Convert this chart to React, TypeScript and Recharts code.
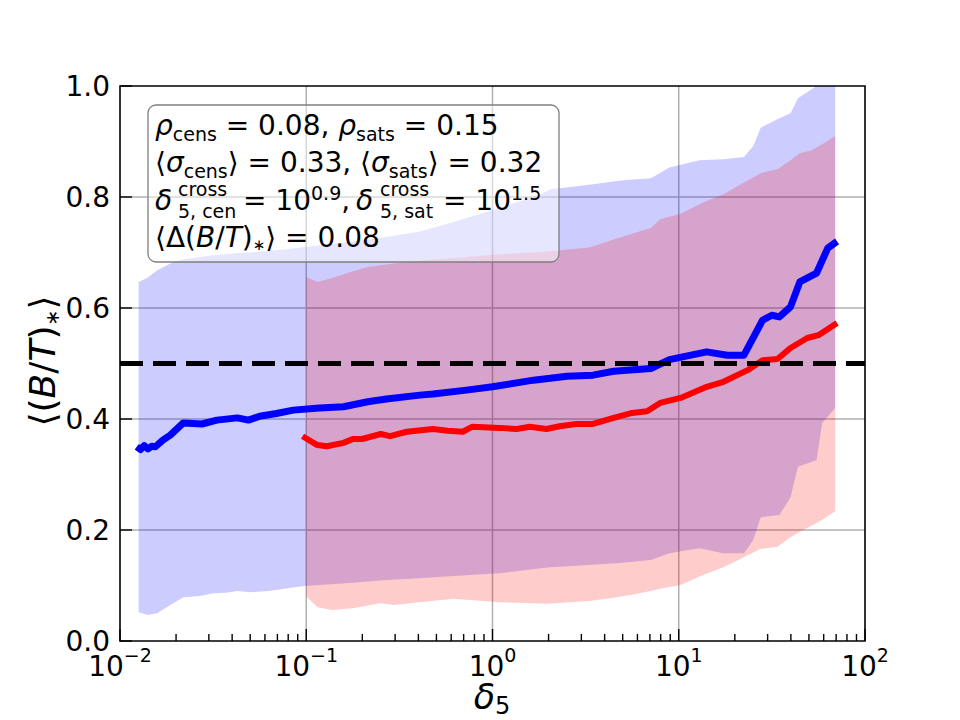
import React from 'react';
import {
  ComposedChart,
  Line,
  Area,
  XAxis,
  YAxis,
  CartesianGrid,
  ReferenceLine,
  ReferenceArea,
} from 'recharts';

// x is log10(delta_5)
const censLogDelta = [
  -1.91, -1.89, -1.87, -1.85, -1.83, -1.81, -1.77, -1.73, -1.66, -1.56, -1.48, -1.37, -1.31, -1.25,
  -1.16, -1.07, -0.93, -0.8, -0.67, -0.57, -0.39, -0.32, -0.14, 0.0, 0.22, 0.4, 0.54, 0.65, 0.85,
  0.95, 1.15, 1.26, 1.35, 1.45, 1.5, 1.54, 1.6, 1.65, 1.74, 1.8, 1.85,
];
const censBT = [
  0.35, 0.345, 0.352, 0.346, 0.351, 0.35, 0.362, 0.371, 0.393, 0.391, 0.398, 0.402, 0.398, 0.405,
  0.41, 0.416, 0.42, 0.422, 0.431, 0.436, 0.443, 0.445, 0.452, 0.458, 0.47, 0.477, 0.479, 0.486, 0.491,
  0.507, 0.521, 0.515, 0.515, 0.578, 0.587, 0.584, 0.602, 0.647, 0.663, 0.708, 0.72,
];

const satsLogDelta = [
  -1.02, -0.94, -0.89, -0.8, -0.75, -0.7, -0.6, -0.55, -0.46, -0.32, -0.24, -0.16, -0.11, 0.04, 0.13,
  0.2, 0.29, 0.36, 0.45, 0.54, 0.65, 0.75, 0.83, 0.9, 1.01, 1.15, 1.24, 1.37, 1.45, 1.53, 1.6, 1.69,
  1.75, 1.85,
];
const satsBT = [
  0.369, 0.353, 0.351, 0.357, 0.364, 0.364, 0.373, 0.369, 0.377, 0.382, 0.379, 0.377, 0.386, 0.384,
  0.382, 0.386, 0.382, 0.387, 0.391, 0.391, 0.402, 0.411, 0.414, 0.429, 0.438, 0.458, 0.467, 0.488,
  0.506, 0.508, 0.528, 0.546, 0.551, 0.573,
];

const censBandLogDelta = [
  -1.9, -1.85, -1.8, -1.73, -1.66, -1.57, -1.5, -1.43, -1.37, -1.3, -1.2, -1.1, -1.01, -0.75, -0.57,
  -0.39, -0.21, 0.04, 0.26, 0.31, 0.52, 0.7, 0.85, 0.95, 1.11, 1.24, 1.35, 1.4, 1.44, 1.54, 1.6, 1.64,
  1.74, 1.77, 1.84,
];
const censBandLow = [
  0.052, 0.047, 0.05, 0.065, 0.079, 0.081, 0.086, 0.087, 0.09, 0.088, 0.09, 0.095, 0.099, 0.105, 0.11,
  0.113, 0.117, 0.122, 0.131, 0.133, 0.137, 0.141, 0.146, 0.158, 0.167, 0.158, 0.158, 0.182, 0.223,
  0.227, 0.259, 0.314, 0.326, 0.393, 0.42,
];
const censBandHigh = [
  0.647, 0.655, 0.668, 0.68, 0.688, 0.692, 0.695, 0.697, 0.699, 0.7, 0.703, 0.706, 0.71, 0.72, 0.728,
  0.738, 0.755, 0.78, 0.805, 0.814, 0.822, 0.83, 0.834, 0.853, 0.866, 0.868, 0.872, 0.892, 0.925, 0.942,
  0.951, 0.978, 1.0, 1.01, 1.02,
];

const satsBandLogDelta = [
  -1.0, -0.94, -0.86, -0.75, -0.67, -0.6, -0.53, -0.39, -0.21, 0.04, 0.29, 0.52, 0.63, 0.74, 0.85,
  0.9, 1.01, 1.13, 1.24, 1.29, 1.44, 1.53, 1.6, 1.65, 1.71, 1.77, 1.84,
];
const satsBandLow = [
  0.08, 0.061, 0.056, 0.059, 0.064, 0.068, 0.065, 0.07, 0.076, 0.07, 0.067, 0.072, 0.077, 0.083, 0.09,
  0.094, 0.101, 0.119, 0.133, 0.141, 0.166, 0.17, 0.187, 0.197, 0.207, 0.218, 0.234,
];
const satsBandHigh = [
  0.656, 0.647, 0.654, 0.666, 0.674, 0.677, 0.68, 0.685, 0.69, 0.697, 0.702, 0.709, 0.721, 0.733, 0.744,
  0.76, 0.77, 0.79, 0.805, 0.815, 0.843, 0.85, 0.866, 0.879, 0.884, 0.895, 0.91,
];

const majorTicks = [-2, -1, 0, 1, 2];
const majorTickExp = ['\u22122', '\u22121', '0', '1', '2'];
const yTicks = [0, 0.2, 0.4, 0.6, 0.8, 1.0];
const threshold = 0.5;

// minor ticks at 2..9 x 10^n
const minorTicks: number[] = [];
for (let n = -2; n < 2; n++) {
  for (let k = 2; k <= 9; k++) minorTicks.push(n + Math.log10(k));
}
const allXTicks = [...majorTicks, ...minorTicks];

const censLine = censLogDelta.map((x, i) => ({ x, y: censBT[i] }));
const satsLine = satsLogDelta.map((x, i) => ({ x, y: satsBT[i] }));
const censBand = censBandLogDelta.map((x, i) => ({ x, range: [censBandLow[i], censBandHigh[i]] }));
const satsBand = satsBandLogDelta.map((x, i) => ({ x, range: [satsBandLow[i], satsBandHigh[i]] }));

const FONT = 'DejaVu Sans';
const TICK_FS = 28;
const SCRIPT_FS = 19;

function XTick(props: any) {
  const { x, y, payload } = props;
  const idx = majorTicks.indexOf(payload.value);
  const major = idx >= 0;
  return (
    <g>
      <line x1={x} x2={x} y1={y} y2={y - (major ? 12 : 7)} stroke="#000" strokeWidth={1.4} />
      {major && (
        <text x={x} y={y + 35} textAnchor="middle" fontSize={TICK_FS} fontFamily={FONT} fill="#000">
          10
          <tspan dy={-14} fontSize={SCRIPT_FS}>
            {majorTickExp[idx]}
          </tspan>
        </text>
      )}
    </g>
  );
}

function YTick(props: any) {
  const { x, y, payload } = props;
  return (
    <g>
      <line x1={x} x2={x + 12} y1={y} y2={y} stroke="#000" strokeWidth={1.4} />
      <text x={x - 10} y={y + 10} textAnchor="end" fontSize={TICK_FS} fontFamily={FONT} fill="#000">
        {payload.value.toFixed(1)}
      </text>
    </g>
  );
}

const it = { fontStyle: 'italic' as const };

function Sub({ children, fs = SCRIPT_FS, d = 6 }: { children: React.ReactNode; fs?: number; d?: number }) {
  return (
    <tspan fontSize={fs} dy={d}>
      {children}
    </tspan>
  );
}

function Annotations() {
  return (
    <svg
      width={960}
      height={720}
      style={{ position: 'absolute', left: 0, top: 0, pointerEvents: 'none', whiteSpace: 'pre' }}
      fontFamily={FONT}
    >
      <rect x={148} y={105} width={411} height={157} rx={8} fill="#fff" fillOpacity={0.5} stroke="#7f7f7f" strokeWidth={1.3} />
      <text x={155} y={135} fontSize={28} fill="#000">
        <tspan style={it}>ρ</tspan>
        <Sub>cens</Sub>
        <tspan dy={-6}>{' = 0.08, '}</tspan>
        <tspan style={it}>ρ</tspan>
        <Sub>sats</Sub>
        <tspan dy={-6}>{' = 0.15'}</tspan>
      </text>
      <text x={155} y={172} fontSize={28} fill="#000">
        <tspan>⟨</tspan>
        <tspan style={it}>σ</tspan>
        <Sub>cens</Sub>
        <tspan dy={-6}>{'⟩ = 0.33, ⟨'}</tspan>
        <tspan style={it}>σ</tspan>
        <Sub>sats</Sub>
        <tspan dy={-6}>{'⟩ = 0.32'}</tspan>
      </text>
      <text x={155} y={210} fontSize={28} fill="#000">
        <tspan style={it}>δ</tspan>
        <tspan x={178} dy={-14} fontSize={SCRIPT_FS}>cross</tspan>
        <tspan x={178} dy={22} fontSize={SCRIPT_FS}>5, cen</tspan>
        <tspan x={243} dy={-8}>{'= 10'}</tspan>
        <tspan dy={-10} fontSize={SCRIPT_FS}>0.9</tspan>
        <tspan dy={10}>{', '}</tspan>
        <tspan x={356} style={it}>δ</tspan>
        <tspan x={380} dy={-14} fontSize={SCRIPT_FS}>cross</tspan>
        <tspan x={380} dy={22} fontSize={SCRIPT_FS}>5, sat</tspan>
        <tspan x={443} dy={-8}>{'= 10'}</tspan>
        <tspan dy={-10} fontSize={SCRIPT_FS}>1.5</tspan>
      </text>
      <text x={155} y={247} fontSize={28} fill="#000">
        <tspan>⟨Δ(</tspan>
        <tspan style={it}>B</tspan>
        <tspan>/</tspan>
        <tspan style={it}>T</tspan>
        <tspan>)</tspan>
        <Sub fs={15} d={3}>∗</Sub>
        <tspan dy={-3}>{'⟩ = 0.08'}</tspan>
      </text>

      {/* axis titles */}
      <text x={492} y={709} fontSize={35} textAnchor="middle" fill="#000">
        <tspan style={it}>δ</tspan>
        <Sub fs={24} d={5}>
          5
        </Sub>
      </text>
      <text x={55} y={361} fontSize={36} textAnchor="middle" fill="#000" transform="rotate(-90 55 361)">
        <tspan>⟨(</tspan>
        <tspan style={it}>B</tspan>
        <tspan>/</tspan>
        <tspan style={it}>T</tspan>
        <tspan>)</tspan>
        <Sub fs={19} d={4}>
          ∗
        </Sub>
        <tspan dy={-4}>⟩</tspan>
      </text>
    </svg>
  );
}

export default function App() {
  return (
    <div style={{ position: 'absolute', left: 0, top: 0, width: 960, height: 720, background: '#fff' }}>
      <ComposedChart
        width={960}
        height={720}
        margin={{ top: 86, right: 95, bottom: 19, left: 60 }}
        style={{ fontFamily: FONT }}
      >
        <CartesianGrid
          stroke="#b0b0b0"
          strokeWidth={1.5}
          verticalValues={[-1, 0, 1]}
          horizontalValues={[0.2, 0.4, 0.6, 0.8]}
        />
        <XAxis
          dataKey="x"
          type="number"
          domain={[-2, 2]}
          allowDataOverflow
          ticks={allXTicks}
          interval={0}
          tick={XTick}
          tickLine={false}
          tickSize={0}
          tickMargin={0}
          axisLine={false}
          height={60}
        />
        <YAxis
          type="number"
          domain={[0, 1]}
          allowDataOverflow
          ticks={yTicks}
          interval={0}
          tick={YTick}
          tickLine={false}
          tickSize={0}
          tickMargin={0}
          axisLine={false}
          width={60}
        />
        <Area
          data={censBand}
          dataKey="range"
          type="linear"
          stroke="none"
          fill="#0000ff"
          fillOpacity={0.2}
          isAnimationActive={false}
        />
        <Area
          data={satsBand}
          dataKey="range"
          type="linear"
          stroke="none"
          fill="#ff0000"
          fillOpacity={0.2}
          isAnimationActive={false}
        />
        <Line
          data={censLine}
          dataKey="y"
          type="linear"
          stroke="#0000ff"
          strokeWidth={7}
          strokeLinejoin="round"
          dot={false}
          isAnimationActive={false}
        />
        <Line
          data={satsLine}
          dataKey="y"
          type="linear"
          stroke="#ff0000"
          strokeWidth={6}
          strokeLinejoin="round"
          dot={false}
          isAnimationActive={false}
        />
        <ReferenceLine y={threshold} stroke="#000" strokeWidth={5} strokeDasharray="23 10" />
        <ReferenceArea x1={-2} x2={2} y1={0} y2={1} fill="none" fillOpacity={0} stroke="#000" strokeWidth={1.6} />
      </ComposedChart>
      <Annotations />
    </div>
  );
}
